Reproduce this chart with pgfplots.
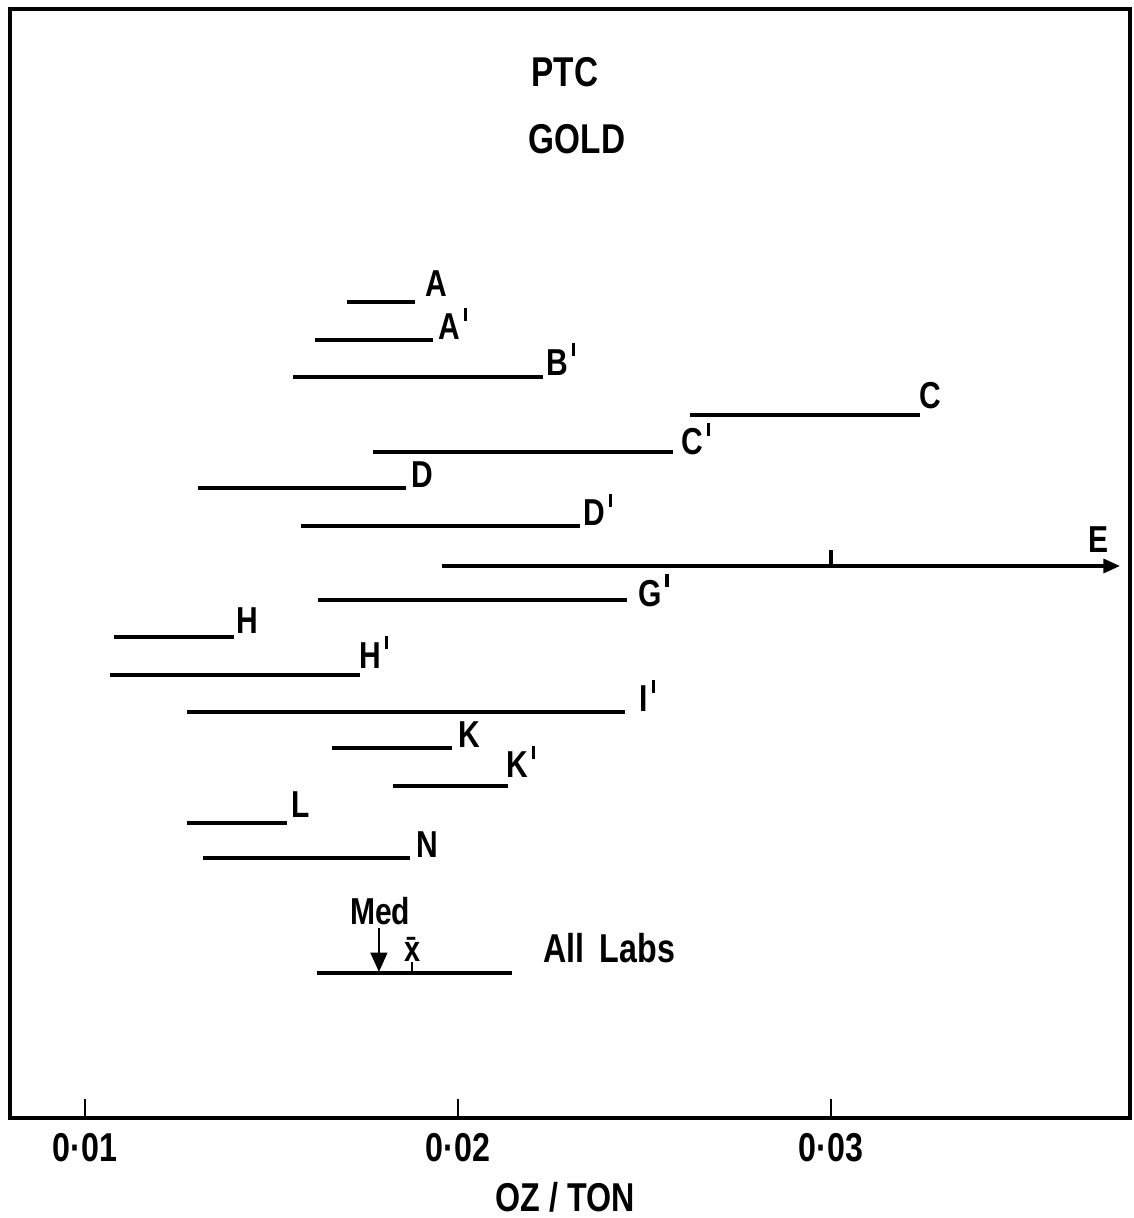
\documentclass[border=0pt]{standalone}
\usepackage{fontspec}
\setmainfont{Liberation Sans Bold}[FakeStretch=0.8]
\usepackage{pgfplots}
\pgfplotsset{compat=1.18}
\usetikzlibrary{arrows.meta}
\newcommand{\pr}{\hspace{1.2pt}\rule[6.8pt]{1.2pt}{4.6pt}}
\tikzset{seg/.style={black, line width=1.25pt},
 lab/.style={anchor=base west, inner sep=0pt, font=\fontsize{13.5}{15}\selectfont}}
\begin{document}
\begin{tikzpicture}
\begin{axis}[
 scale only axis, width=403.2pt, height=399.24pt,
 xmin=0.007989, xmax=0.038016, ymin=0, ymax=1109,
 axis line style={line width=1.2pt},
 scaled x ticks=false,
 xtick={0.01,0.02,0.03}, xticklabels={0·01,0·02,0·03},
 ytick=\empty,
 tick align=inside, xtick pos=bottom, major tick length=7pt,
 tick style={line width=1pt, black},
 xticklabel style={font=\fontsize{14.5}{16}\selectfont, yshift=-2pt},
 xlabel={OZ / TON},
 xlabel style={font=\fontsize{14.5}{16}\selectfont, at={(axis description cs:0.4955,-0.0712)}, anchor=center},
 clip=false,
]
\addplot[seg] coordinates {(0.01702,816)(0.01885,816)} node[lab,pos=1,xshift=3.2pt,yshift=1.8pt] {A};
\addplot[seg] coordinates {(0.01617,778)(0.01933,778)} node[lab,pos=1,xshift=1.4pt] {A\pr};
\addplot[seg] coordinates {(0.01558,741)(0.02228,741)} node[lab,pos=1,xshift=0.7pt,yshift=0.7pt] {B\pr};
\addplot[seg] coordinates {(0.02622,703)(0.03239,703)} node[lab,pos=1,xshift=-1pt,yshift=2.5pt] {C};
\addplot[seg] coordinates {(0.01772,666)(0.02576,666)} node[lab,pos=1,xshift=2.5pt,yshift=-1pt] {C\pr};
\addplot[seg] coordinates {(0.01303,630)(0.01861,630)} node[lab,pos=1,xshift=1.4pt] {D};
\addplot[seg] coordinates {(0.01579,592)(0.02327,592)} node[lab,pos=1,xshift=0.7pt] {D\pr};
\addplot[seg,-{Triangle[length=6pt,width=5pt]}] coordinates {(0.01957,552)(0.03775,552)};
\addplot[seg] coordinates {(0.03,552)(0.03,568)};
\addplot[seg] coordinates {(0.01625,518)(0.02453,518)} node[lab,pos=1,xshift=3.6pt,yshift=-2.2pt] {G\pr};
\addplot[seg] coordinates {(0.01078,481)(0.01399,481)} node[lab,pos=1,xshift=0.4pt,yshift=1.4pt] {H};
\addplot[seg] coordinates {(0.01067,443)(0.01737,443)} node[lab,pos=1,xshift=-0.7pt,yshift=2.5pt] {H\pr};
\addplot[seg] coordinates {(0.01273,406)(0.02448,406)} node[lab,pos=1,xshift=4.7pt] {I\pr};
\addplot[seg] coordinates {(0.01662,370)(0.01984,370)} node[lab,pos=1,xshift=1.8pt] {K};
\addplot[seg] coordinates {(0.01826,332)(0.02134,332)} node[lab,pos=1,xshift=-1pt,yshift=2.9pt] {K\pr};
\addplot[seg] coordinates {(0.01273,295)(0.01542,295)} node[lab,pos=1,xshift=1pt,yshift=1.8pt] {L};
\addplot[seg] coordinates {(0.01316,260)(0.01871,260)} node[lab,pos=1,xshift=1.8pt] {N};
\addplot[seg] coordinates {(0.01622,145)(0.02145,145)};
\addplot[black, line width=1pt, -{Triangle[length=7pt,width=6pt]}] coordinates {(0.01788,190)(0.01788,146)};
\addplot[black, line width=0.9pt] coordinates {(0.01877,145)(0.01877,156)};
\node[lab] at (axis cs:0.03690,565) {E};
\node[anchor=south, inner sep=0pt, font=\fontsize{13.5}{15}\selectfont] at (axis cs:0.01791,193) {Med};
\node[anchor=south, inner sep=0pt, font=\fontsize{13}{15}\selectfont] at (axis cs:0.01877,156) {\={x}};
\node[anchor=center, font=\fontsize{14.5}{16}\selectfont] at (axis cs:0.02405,170) {All\, Labs};
\node[anchor=center, font=\fontsize{15}{17}\selectfont] at (axis cs:0.02287,1046) {PTC};
\node[anchor=center, font=\fontsize{15}{17}\selectfont] at (axis cs:0.02319,979) {GOLD};
\end{axis}
\pgfresetboundingbox
\path[use as bounding box] ([xshift=-3.6pt,yshift=-36pt]current axis.south west) rectangle ([xshift=1.08pt,yshift=3.24pt]current axis.north east);
\end{tikzpicture}
\end{document}
